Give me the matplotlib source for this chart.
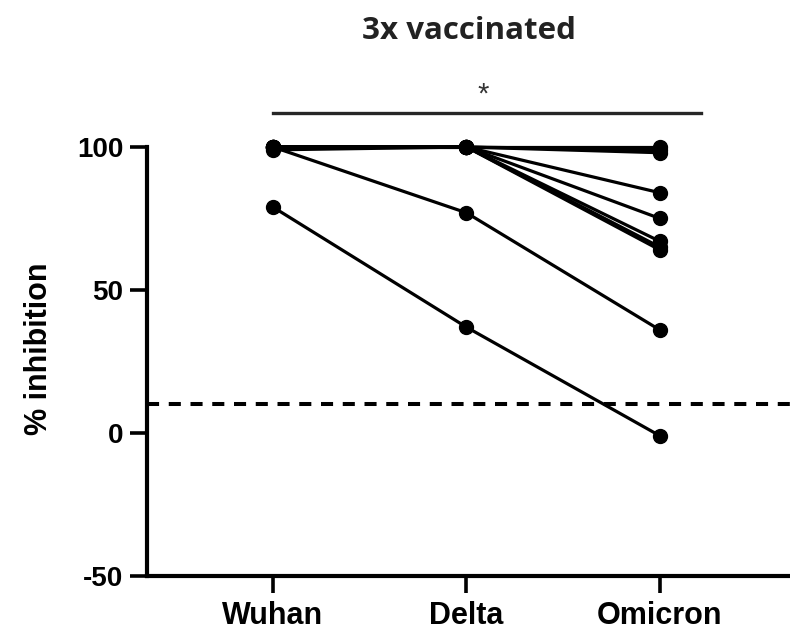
import matplotlib
matplotlib.use('Agg')
import matplotlib.pyplot as plt

plt.rcParams['font.family'] = ['Liberation Sans', 'DejaVu Sans']

# data
variants = ['Wuhan', 'Delta', 'Omicron']
wuhan = [79, 100, 100, 100, 100, 100, 100, 100, 99, 100]
delta = [37, 77, 100, 100, 100, 100, 100, 100, 100, 100]
omicron = [-1, 36, 84, 75, 67, 65, 64, 100, 99, 98]
cutoff = 10
yticks = [-50, 0, 50, 100]
sig_from, sig_to, sig_y = 0, 2.21, 112
sig_label = '*'

fig = plt.figure(figsize=(7.9, 6.32), dpi=100)
ax = fig.add_axes([147 / 790, 1 - 576 / 632, 1 - 147 / 790, (576 - 147) / 632])

xpos = list(range(len(variants)))
for w, d, o in zip(wuhan, delta, omicron):
    ax.plot(xpos, [w, d, o], color='black', linewidth=2.3, marker='o',
            markersize=10, clip_on=False, zorder=3)

# detection cutoff
ax.axhline(cutoff, color='black', linewidth=2.9, dashes=(3, 2.4), zorder=2)

# significance bar
ax.plot([sig_from, sig_to], [sig_y, sig_y], color='#262626', linewidth=2.4,
        clip_on=False)
ax.text(1.085, sig_y + 1.5, sig_label, ha='center', va='bottom', fontsize=21,
        color='#333333')

ax.set_xlim(-0.651, 2.672)
ax.set_ylim(-50, 100)
ax.set_yticks(yticks)
ax.set_yticklabels([str(t) for t in yticks], fontsize=20, fontweight='bold')
ax.set_xticks(xpos)
ax.set_xticklabels(variants, fontsize=22, fontweight='bold')

for s in ['top', 'right']:
    ax.spines[s].set_visible(False)
for s in ['left', 'bottom']:
    ax.spines[s].set_linewidth(3)
ax.tick_params(axis='both', width=2.6, length=12, color='black')
ax.tick_params(axis='y', pad=5)
ax.tick_params(axis='x', pad=6)

ax.set_ylabel('% inhibition', fontsize=22, fontweight='bold')
ax.yaxis.set_label_coords(-0.145, 0.53)

ax.text(0.5, 1.27, '3x vaccinated', transform=ax.transAxes, ha='center',
        va='center', fontsize=22.5, fontweight='bold', color='#222222',
        family=['Open Sans', 'DejaVu Sans'])

plt.savefig('out.png', dpi=100)
plt.close()
